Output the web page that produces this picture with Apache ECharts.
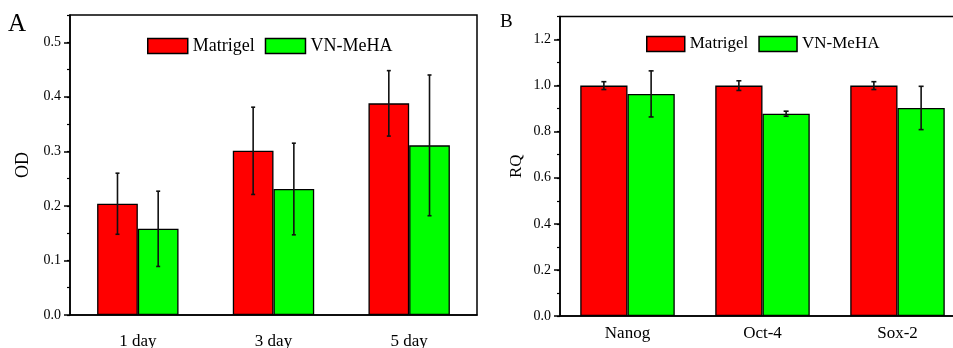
<!DOCTYPE html>
<html>
<head>
<meta charset="utf-8">
<script src="https://cdn.jsdelivr.net/npm/echarts@6/dist/echarts.min.js"></script>
<style>
  html, body { margin: 0; padding: 0; background: #fff; }
  #main { width: 953px; height: 348px; }
</style>
</head>
<body>
<div id="main"></div>
<script>
// panel A - OD
var daysA = ['1 day', '3 day', '5 day']
var matrigelA = [0.204, 0.301, 0.388]
var matrigelAErr = [0.056, 0.080, 0.060]
var vnA = [0.158, 0.231, 0.311]
var vnAErr = [0.069, 0.084, 0.129]
var ticksA = [0, 0.1, 0.2, 0.3, 0.4, 0.5]

// panel B - RQ
var genesB = ['Nanog', 'Oct-4', 'Sox-2']
var matrigelB = [1.0, 1.0, 1.0]
var matrigelBErr = [0.017, 0.021, 0.017]
var vnB = [0.964, 0.878, 0.903]
var vnBErr = [0.100, 0.011, 0.094]
var ticksB = [0, 0.2, 0.4, 0.6, 0.8, 1.0, 1.2]

var FONT = 'Liberation Serif'
var RED = '#ff0000'
var GREEN = '#00ff00'

function errData (vals, errs) {
  return vals.map(function (v, i) { return [i, v, errs[i]] })
}

// error bar drawn over a bar; side = -1 left bar, +1 right bar
function errRender (barFrac, side, cap) {
  return function (params, api) {
    var i = api.value(0)
    var v = api.value(1)
    var e = api.value(2)
    var band = api.size([1, 0])[0]
    var hi = api.coord([i, v + e])
    var lo = api.coord([i, v - e])
    var x = hi[0] + side * band * barFrac / 2
    var st = { stroke: '#111', lineWidth: 1.6 }
    return {
      type: 'group',
      children: [
        { type: 'line', shape: { x1: x, y1: hi[1], x2: x, y2: lo[1] }, style: st },
        { type: 'line', shape: { x1: x - cap, y1: hi[1], x2: x + cap, y2: hi[1] }, style: st },
        { type: 'line', shape: { x1: x - cap, y1: lo[1], x2: x + cap, y2: lo[1] }, style: st }
      ]
    }
  }
}

function catAxis (idx, data, tickLen, margin) {
  return {
    type: 'category',
    gridIndex: idx,
    data: data,
    axisLine: { lineStyle: { color: '#000', width: 1.5 } },
    axisTick: { alignWithLabel: true, length: tickLen, lineStyle: { color: '#000', width: 1.5 } },
    axisLabel: { color: '#000', fontFamily: FONT, fontSize: 17, margin: margin }
  }
}

function valAxis (idx, max, minorStep, majorTicks, name, nameSize, nameGap) {
  return {
    type: 'value',
    gridIndex: idx,
    position: 'left',
    min: 0,
    max: max,
    interval: minorStep,
    name: name,
    nameLocation: 'middle',
    nameGap: nameGap,
    nameRotate: 90,
    nameTextStyle: { color: '#000', fontFamily: FONT, fontSize: nameSize },
    splitLine: { show: false },
    axisLine: { show: true, lineStyle: { color: '#000', width: 1.5 } },
    axisTick: { show: true, length: 3, lineStyle: { color: '#000', width: 1.2 } },
    axisLabel: {
      color: '#000', fontFamily: FONT, fontSize: 14, margin: 9,
      customValues: majorTicks,
      formatter: function (v) { return v.toFixed(1) }
    }
  }
}

// overlay axis only for the longer major ticks
function majorTickAxis (idx, max, majorTicks) {
  return {
    type: 'value',
    gridIndex: idx,
    position: 'left',
    offset: 0,
    min: 0,
    max: max,
    splitLine: { show: false },
    axisLine: { show: false },
    axisLabel: { show: false },
    axisTick: { show: true, length: 6, customValues: majorTicks, lineStyle: { color: '#000', width: 1.5 } }
  }
}

function legendAt (left, top, size, w) {
  return {
    left: left,
    top: top,
    padding: 0,
    itemGap: 10,
    itemWidth: w,
    itemHeight: 15,
    icon: 'rect',
    selectedMode: false,
    data: ['Matrigel', 'VN-MeHA'],
    itemStyle: { borderColor: '#000', borderWidth: 1.5 },
    textStyle: { color: '#000', fontFamily: FONT, fontSize: size }
  }
}

var barStyle = function (c) {
  return { color: c, borderColor: '#000', borderWidth: 1.3 }
}

var chart = echarts.init(document.getElementById('main'))
chart.setOption({
  animation: false,
  backgroundColor: '#fff',
  graphic: [
    { type: 'text', left: 8, top: 12, style: { text: 'A', font: '25px "Liberation Serif"', fill: '#000' } },
    { type: 'text', left: 500, top: 13, style: { text: 'B', font: '19px "Liberation Serif"', fill: '#000' } }
  ],
  legend: [legendAt(147, 37, 18, 40), legendAt(646, 35.5, 17, 38)],
  grid: [
    { left: 70, top: 15, width: 407, height: 300, outerBoundsMode: 'none', show: true, borderColor: '#000', borderWidth: 1.5 },
    { left: 560, top: 16.5, width: 405, height: 299.5, outerBoundsMode: 'none', show: true, borderColor: '#000', borderWidth: 1.5 }
  ],
  xAxis: [
    catAxis(0, daysA, 13, 18),
    catAxis(1, genesB, 8, 9)
  ],
  yAxis: [
    valAxis(0, 0.55, 0.05, ticksA, 'OD', 18, 38),
    valAxis(1, 1.3, 0.1, ticksB, 'RQ', 17, 35),
    majorTickAxis(0, 0.55, ticksA),
    majorTickAxis(1, 1.3, ticksB)
  ],
  series: [
    { name: 'Matrigel', type: 'bar', xAxisIndex: 0, yAxisIndex: 0, barWidth: '30%', barGap: 0, data: matrigelA, itemStyle: barStyle(RED) },
    { name: 'VN-MeHA', type: 'bar', xAxisIndex: 0, yAxisIndex: 0, barWidth: '30%', barGap: 0, data: vnA, itemStyle: barStyle(GREEN) },
    { name: 'Matrigel', type: 'bar', xAxisIndex: 1, yAxisIndex: 1, barWidth: '35%', barGap: 0, data: matrigelB, itemStyle: barStyle(RED) },
    { name: 'VN-MeHA', type: 'bar', xAxisIndex: 1, yAxisIndex: 1, barWidth: '35%', barGap: 0, data: vnB, itemStyle: barStyle(GREEN) },
    { type: 'custom', xAxisIndex: 0, yAxisIndex: 0, z: 5, encode: { x: 0, y: 1 }, renderItem: errRender(0.30, -1, 2), data: errData(matrigelA, matrigelAErr) },
    { type: 'custom', xAxisIndex: 0, yAxisIndex: 0, z: 5, encode: { x: 0, y: 1 }, renderItem: errRender(0.30, 1, 2), data: errData(vnA, vnAErr) },
    { type: 'custom', xAxisIndex: 1, yAxisIndex: 1, z: 5, encode: { x: 0, y: 1 }, renderItem: errRender(0.35, -1, 2.5), data: errData(matrigelB, matrigelBErr) },
    { type: 'custom', xAxisIndex: 1, yAxisIndex: 1, z: 5, encode: { x: 0, y: 1 }, renderItem: errRender(0.35, 1, 2.5), data: errData(vnB, vnBErr) }
  ]
})
</script>
</body>
</html>
